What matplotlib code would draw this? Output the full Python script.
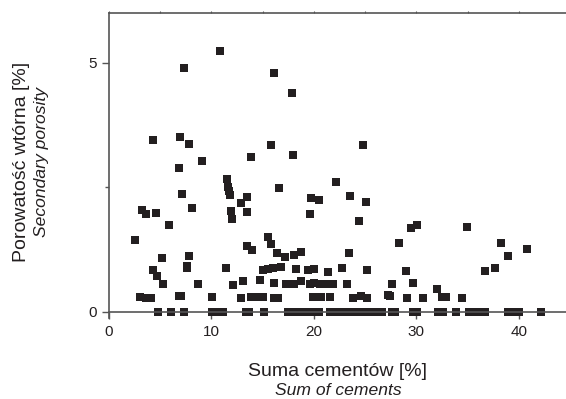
import numpy as np
import matplotlib
matplotlib.use('Agg')
import matplotlib.pyplot as plt

plt.rcParams['font.family'] = ['Liberation Sans', 'DejaVu Sans']

# Sum of cements [%] and secondary porosity [%]
cem_hi = [10.8, 7.35, 16.07, 17.85, 4.29, 6.96, 7.84, 15.77, 17.98, 13.85,
          9.1, 6.83, 11.5, 22.15, 24.78]
por_hi = [5.24, 4.90, 4.80, 4.39, 3.44, 3.50, 3.37, 3.34, 3.14, 3.11,
          3.03, 2.88, 2.67, 2.60, 3.34]

cem_mid = [11.58, 11.67, 11.77, 16.6, 7.09, 3.19, 3.61, 4.55, 8.06, 12.88,
           13.5, 11.87, 13.5, 12.03, 19.67, 20.5, 19.6, 5.89, 2.54, 15.55,
           15.84, 13.5, 13.95, 16.42, 17.2, 18.05, 18.73, 5.14, 7.8, 23.5,
           25.1, 24.4, 23.38, 29.46, 30.05, 28.32, 34.93, 38.24, 38.93, 40.75]
por_mid = [2.51, 2.43, 2.34, 2.49, 2.36, 2.04, 1.97, 1.99, 2.08, 2.19,
           2.30, 2.02, 2.00, 1.85, 2.29, 2.24, 1.96, 1.74, 1.43, 1.50,
           1.36, 1.32, 1.24, 1.17, 1.10, 1.14, 1.19, 1.08, 1.12, 2.32,
           2.20, 1.82, 1.17, 1.68, 1.73, 1.38, 1.70, 1.38, 1.11, 1.25]

cem_low = [4.29, 7.58, 7.61, 11.45, 4.65, 15.05, 15.54, 16.03, 16.74, 18.27,
           19.44, 20.03, 21.4, 22.73, 25.2, 28.97, 36.7, 37.69,
           5.27, 8.65, 12.07, 13.07, 14.76, 16.1, 17.27, 18.05, 18.7, 19.6,
           20.03, 20.59, 21.07, 21.9, 23.25, 27.58, 29.7, 31.97,
           3.02, 3.61, 4.1, 6.83, 7.06, 10.05, 12.9, 13.82, 14.4, 15.05,
           16.1, 16.52, 19.93, 20.36, 20.65, 21.6, 23.84, 24.56, 25.17, 27.25,
           27.4, 29.1, 30.67, 32.46, 32.88, 34.44]
por_low = [0.84, 0.91, 0.88, 0.88, 0.71, 0.84, 0.85, 0.87, 0.89, 0.85,
           0.84, 0.85, 0.79, 0.87, 0.83, 0.81, 0.81, 0.87,
           0.55, 0.55, 0.54, 0.62, 0.64, 0.57, 0.56, 0.56, 0.61, 0.55,
           0.57, 0.55, 0.55, 0.56, 0.56, 0.55, 0.57, 0.45,
           0.30, 0.28, 0.27, 0.31, 0.32, 0.29, 0.27, 0.29, 0.30, 0.30,
           0.28, 0.28, 0.29, 0.29, 0.30, 0.30, 0.28, 0.31, 0.28, 0.34,
           0.31, 0.28, 0.27, 0.29, 0.29, 0.28]

# samples with no secondary porosity
cem_zero = [4.75, 6.02, 7.35, 10.02, 10.27, 10.56, 10.83, 11.12, 13.33, 13.69,
            15.12, 17.49, 17.82, 18.15, 18.54, 18.96, 19.35, 19.68, 20.1, 20.52,
            21.56, 21.9, 22.3, 22.54, 23.02, 23.5, 24.0, 24.49, 24.98, 25.46,
            26.18, 26.6, 27.58, 27.9, 29.7, 30.03, 32.13, 32.6, 33.9, 35.1,
            35.5, 36.0, 36.5, 36.7, 38.9, 39.2, 40.0, 42.2]

cem = np.array(cem_hi + cem_mid + cem_low + cem_zero)
por = np.array(por_hi + por_mid + por_low + [0.0] * len(cem_zero))

ink = '#231f20'
spine_col = '#555555'

fig = plt.figure(figsize=(5.66, 3.99), dpi=100)
ax = fig.add_axes([0.1926, 0.2018, 0.8074, 0.7656])

ax.plot(cem, por, 's', color=ink, markersize=5.2, markeredgewidth=0, clip_on=False)

ax.set_xlim(0, 44.6)
ax.set_ylim(-0.14, 6)

ax.spines['right'].set_visible(False)
ax.spines['bottom'].set_position(('data', 0))
for s in ['left', 'bottom', 'top']:
    ax.spines[s].set_color(spine_col)
    ax.spines[s].set_linewidth(1.2)

ax.set_xticks([0, 10, 20, 30, 40])
ax.set_yticks([0, 5])
ax.set_yticks([2.5], minor=True)
ax.tick_params(axis='both', which='major', direction='out', length=5, width=1,
               color=spine_col, labelsize=11, labelcolor=ink)
ax.tick_params(axis='x', pad=5)
ax.tick_params(axis='y', which='minor', direction='out', length=3, width=1,
               color=spine_col)

# small ticks on the top frame
top = ax.secondary_xaxis('top')
top.set_xticks(np.arange(0, 45, 5))
top.tick_params(direction='out', length=1.5, width=0.8, color=spine_col,
                labeltop=False)
top.spines['top'].set_visible(False)

fig.text(0.597, 0.0576, 'Suma cementów [%]', ha='center', va='baseline',
         fontsize=14, color=ink)
fig.text(0.597, 0.010, 'Sum of cements', ha='center', va='baseline',
         fontsize=12.6, style='italic', color=ink)
fig.text(0.038, 0.593, 'Porowatość wtórna [%]', ha='center', va='center',
         rotation=90, fontsize=14, color=ink)
fig.text(0.0725, 0.593, 'Secondary porosity', ha='center', va='center',
         rotation=90, fontsize=12.6, style='italic', color=ink)

fig.savefig('out.png', dpi=100)
